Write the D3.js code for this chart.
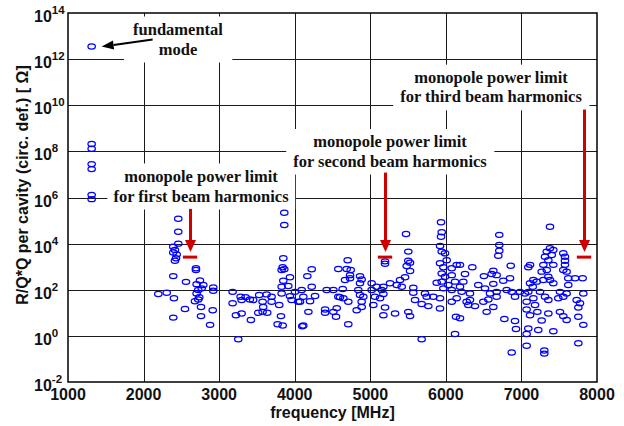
<!DOCTYPE html>
<html><head><meta charset="utf-8">
<script src="https://cdn.jsdelivr.net/npm/d3@7"></script>
<style>body{margin:0;background:#fff}svg{display:block}</style>
</head><body><svg id="c" width="624" height="426"></svg>
<script>
// ---- data ----
const xTickValues = [1000,2000,3000,4000,5000,6000,7000,8000];
const yTickExponents = [-2,0,2,4,6,8,10,12,14];

const freqMHz = [
1313,1313,1313,1313,1313,1313,1313,
2459,2459,2459,2393,2415,2393,2438,2429,2415,2693,2693,2393,2561,2746,2702,2790,2769,2922,2922,2724,2702,2195,2306,2402,2737,2724,2680,2760,2548,2915,2760,2393,2880,
3862,3862,3849,3841,3862,3827,3937,3849,3827,3915,3178,3284,3297,3407,3451,3530,3628,3694,3694,3575,3583,3795,3827,3937,3959,4003,4047,3178,3222,3297,3420,3517,3575,3636,3818,3774,3841,3253,4100,3350,
4701,4225,4167,4577,4688,4741,4732,4732,4666,4864,4886,4864,4225,4423,4511,4635,4092,4114,4269,4203,4070,4577,4643,4709,4841,4864,4908,4886,4886,4820,5018,5018,5084,5062,5040,4402,4402,4511,4556,4547,4181,4709,4114,4599,
5936,5945,5473,5936,5923,5503,5195,5195,5503,5526,5482,5526,5945,5989,6011,5923,5967,6078,6143,5945,5989,6078,5879,5945,6033,6121,6078,5967,5460,5394,5350,5416,5261,5173,5151,5173,5129,5569,5569,5592,5724,5746,5834,5923,5680,5768,5923,5195,5173,5328,5503,5526,6078,6134,6121,5680,6143,
6707,6707,6707,6694,6858,6350,6187,7114,7091,6628,6606,6672,6504,6253,6849,6231,6429,6760,6628,6518,7158,7114,7150,6187,6209,6319,6672,6584,6805,6871,6915,6981,7047,7091,6672,6562,6275,6319,6385,6297,6496,6628,6540,7069,7180,7069,7114,7211,6774,6915,6928,7091,7069,7223,7069,6871,6187,
7378,7378,7335,7422,7401,7312,7356,7422,7290,7335,7268,7554,7576,7576,7576,7554,7598,7356,7378,7290,7422,7620,7709,7810,7620,7202,7246,7158,7312,7356,7510,7598,7554,7488,7819,7731,7775,7753,7356,7510,7554,7598,7753,7268,7422,7819,7753,7303,7303
];
const rqOhm = [
3.5e12,2.1e8,1.3e8,2.8e7,1.7e7,1.3e6,8.5e5,
1.2e5,3.3e4,1.0e4,7.4e3,5.3e3,4.1e3,3.4e3,2.3e3,1.8e3,850,720,390,220,250,175,160,115,126,91,97,69,65,74,43,47,38,32,18,14.5,13,7.2,6.2,3.0,
2.2e5,6.4e4,2.3e3,940,780,720,350,245,135,145,81,50,36,38,36,59,63,50,30,30,18,22,69,53,36,81,30,26,7.9,9.4,4.9,10,11,10,7.2,3.2,2.8,0.72,2.6,48,
1.9e3,770,390,800,800,720,430,315,265,390,280,190,135,97,97,108,97,50,54,32,30,50,43,30,97,59,50,30,18,13,190,97,135,50,22,14,10,11,16,6.8,11,3.2,2.8,47,
8.4e4,3.1e4,2.6e4,2.0e4,7.9e3,4.5e3,1.7e3,1.35e3,1.8e3,1.5e3,1.07e3,650,4.5e3,3.8e3,1.9e3,1.4e3,940,850,1.2e3,510,365,430,200,225,160,225,97,115,350,265,160,135,190,135,97,65,43,123,74,36,69,50,50,43,24,19.5,15.5,17,7.9,9.4,11,7.2,30,6.8,1.2,0.72,43,
2.4e4,8.7e3,4.9e3,3.0e3,1.1e3,940,1.2e3,1.2e3,940,660,480,430,390,480,315,225,160,245,180,115,265,190,135,135,81,69,81,69,97,81,50,81,69,81,50,38,30,36,19.5,22,30,18,11,30,22,14,7.9,11,5.4,4.4,2.0,2.1,1.2,1.8,0.37,0.19,5.8,
5.4e4,6.3e3,4.5e3,5.3e3,3.2e3,2.7e3,1.9e3,1.2e3,1.2e3,720,610,3.8e3,2.7e3,1.8e3,1.2e3,720,610,365,265,265,190,315,315,315,160,225,81,43,50,36,81,69,50,43,69,36,26,17,9.4,11,7.2,4.9,6.8,4.6,1.6,3.0,0.48,0.23,0.17
];

// power limits for the beam harmonics
const limitFreq = [2615, 5195, 7828];
const limitValue = [2600, 2600, 2600];
const limitArrowTop = [3.2e5, 1.2e7, 6.5e9];
const limitLabelLines = [
  ["monopole power limit","for first beam harmonics"],
  ["monopole power limit","for second beam harmonics"],
  ["monopole power limit","for third beam harmonics"]
];
const fundamentalLines = ["fundamental","mode"];

// ---- drawing ----
const svg = d3.select("#c");
const W = 624, H = 426;
const L = 68, R = 597, T = 13, B = 382;
const x = d3.scaleLinear().domain([1000,8000]).range([L,R]);
const y = d3.scaleLog().domain([1e-2,1e14]).range([B,T]);

svg.append("rect").attr("width",W).attr("height",H).attr("fill","#fff");

// grid
const grid = svg.append("g").attr("stroke","#1a1a1a").attr("stroke-width",1).attr("shape-rendering","crispEdges");
grid.selectAll("line.v").data(xTickValues.slice(1,-1)).join("line")
  .attr("x1",d=>Math.round(x(d))+0.5).attr("x2",d=>Math.round(x(d))+0.5).attr("y1",T).attr("y2",B);
grid.selectAll("line.h").data(yTickExponents.slice(1,-1)).join("line")
  .attr("y1",d=>Math.round(y(Math.pow(10,d)))+0.5).attr("y2",d=>Math.round(y(Math.pow(10,d)))+0.5).attr("x1",L).attr("x2",R);

const serif = "'Liberation Serif','Times New Roman',serif";
const sans = "'Liberation Sans',Arial,sans-serif";

// annotation text blocks with white backgrounds
function textBlock(cx, baseline, lines, lh, padX, padTop, padBot){
  const g = svg.append("g");
  const rect = g.append("rect").attr("fill","#fff");
  const t = g.append("text").attr("font-family",serif).attr("font-weight","bold")
    .attr("font-size",16.5).attr("fill","#111").attr("text-anchor","middle");
  lines.forEach((s,i)=>t.append("tspan").attr("x",cx).attr("y",baseline+i*lh).text(s));
  const bb = t.node().getBBox();
  rect.attr("x",bb.x-padX).attr("y",bb.y-padTop).attr("width",bb.width+2*padX).attr("height",bb.height+padTop+padBot);
  return g;
}
textBlock(178, 34.5, fundamentalLines, 20, 9, 3, 4);
textBlock(201, 181.5, limitLabelLines[0], 20, 6, 3, 4);
textBlock(390, 147, limitLabelLines[1], 19.5, 7, 3, 4);
textBlock(491, 82.7, limitLabelLines[2], 19.6, 7, 3, 4);

// points
svg.append("g").selectAll("ellipse").data(freqMHz.map((f,i)=>[f,rqOhm[i]])).join("ellipse")
  .attr("cx",d=>x(d[0])).attr("cy",d=>y(d[1])).attr("rx",3.7).attr("ry",2.6)
  .attr("fill","none").attr("stroke","#0000ff").attr("stroke-width",1.25);

// fundamental arrow
{
  const fx = x(freqMHz[0]) + 10, fy = y(rqOhm[0]);
  const tx = fx + 51, ty = fy - 7;
  const ang = Math.atan2(ty-fy, tx-fx);
  const hl = 12, hw = 4.5;
  const bx = fx + hl*Math.cos(ang), by = fy + hl*Math.sin(ang);
  svg.append("line").attr("x1",tx).attr("y1",ty).attr("x2",bx).attr("y2",by).attr("stroke","#000").attr("stroke-width",2);
  const px = -Math.sin(ang), py = Math.cos(ang);
  svg.append("polygon").attr("fill","#000")
    .attr("points",[[fx,fy],[bx+px*hw,by+py*hw],[bx-px*hw,by-py*hw]].map(p=>p.join(",")).join(" "));
}

// red limit arrows and bars
const red = "#d00000";
limitFreq.forEach((f,i)=>{
  const ax = Math.round(x(f))+0.5;
  const barY = y(limitValue[i]);
  const tipY = barY - 5;
  svg.append("line").attr("x1",ax).attr("x2",ax).attr("y1",y(limitArrowTop[i])).attr("y2",tipY-10)
    .attr("stroke",red).attr("stroke-width",3);
  svg.append("polygon").attr("fill",red)
    .attr("points",`${ax},${tipY} ${ax-5.5},${tipY-12} ${ax+5.5},${tipY-12}`);
  svg.append("line").attr("x1",x(f-95)).attr("x2",x(f+95)).attr("y1",barY).attr("y2",barY)
    .attr("stroke",red).attr("stroke-width",3);
});

// frame
svg.append("rect").attr("x",L).attr("y",T).attr("width",R-L).attr("height",B-T)
  .attr("fill","none").attr("stroke","#000").attr("stroke-width",1.5);

// x tick labels
svg.append("g").selectAll("text").data(xTickValues).join("text")
  .attr("x",d=>x(d)).attr("y",400).attr("text-anchor","middle")
  .attr("font-family",sans).attr("font-weight","bold").attr("font-size",16).attr("fill","#111")
  .text(d=>d);

// y tick labels
const yl = svg.append("g").attr("font-family",sans).attr("font-weight","bold").attr("fill","#111");
yTickExponents.forEach(e=>{
  const gy = y(Math.pow(10,e));
  const t = yl.append("text").attr("x",34).attr("y",gy+9).attr("font-size",16);
  t.append("tspan").text("10");
  t.append("tspan").attr("font-size",11.5).attr("dy",-8).text(e);
});

// axis titles
svg.append("text").attr("x",(L+R)/2).attr("y",418).attr("text-anchor","middle")
  .attr("font-family",sans).attr("font-weight","bold").attr("font-size",16).attr("fill","#111")
  .text("frequency [MHz]");
svg.append("text").attr("transform","translate(28,185) rotate(-90)").attr("text-anchor","middle")
  .attr("font-family",sans).attr("font-weight","bold").attr("font-size",16).attr("fill","#111")
  .text("R/Q*Q per cavity (circ. def.) [ Ω]");
</script></body></html>
